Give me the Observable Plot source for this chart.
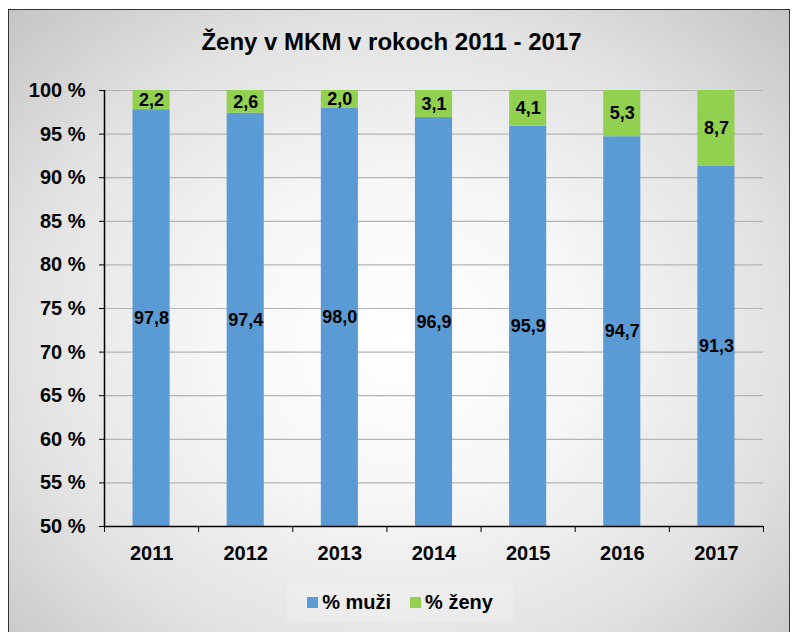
<!DOCTYPE html>
<html>
<head>
<meta charset="utf-8">
<script src="https://cdn.jsdelivr.net/npm/d3@7"></script>
<script src="https://cdn.jsdelivr.net/npm/@observablehq/plot@0.6"></script>
<style>
  html, body { margin: 0; padding: 0; background: #fff; }
  body { width: 792px; height: 632px; overflow: hidden; position: relative;
         font-family: "Liberation Sans", Arial, sans-serif; }
  #frame { position: absolute; left: 8px; top: 9px; width: 780px; height: 640px;
           border: 1.5px solid #333;
           background: radial-gradient(ellipse 70% 72% at 50% 52%, #ffffff 0%, #f6f6f6 35%, #e2e2e2 70%, #c6c6c6 100%); }
  #title { position: absolute; left: 0; width: 783px; top: 30px; text-align: center;
           font-size: 24px; line-height: 23px; font-weight: bold; color: #000; }
  #chart { position: absolute; left: 0; top: 70px; }
  #legend { position: absolute; left: 287px; top: 583px; width: 226px; height: 39px;
            display: flex; align-items: center; justify-content: center;
            background: rgba(255,255,255,0.18);
            font-size: 20px; font-weight: bold; color: #000; }
  .sw { width: 11px; height: 11px; display: inline-block; margin-right: 4px; }
  .item { display: flex; align-items: center; }
</style>
</head>
<body>
<div id="frame"></div>
<div id="title">Ženy v MKM v rokoch 2011 - 2017</div>
<div id="chart"></div>
<div id="legend"></div>
<script>
const years = [2011, 2012, 2013, 2014, 2015, 2016, 2017];
const muzi  = [97.8, 97.4, 98.0, 96.9, 95.9, 94.7, 91.3];
const zeny  = [2.2, 2.6, 2.0, 3.1, 4.1, 5.3, 8.7];
const yTicks = [50, 55, 60, 65, 70, 75, 80, 85, 90, 95, 100];
const seriesNames = ["% muži", "% ženy"];
const colors = ["#5B9BD5", "#92D050"];

const yMin = 50, yMax = 100;
const half = 0.197; // half bar width in category units
const data = years.map((y, i) => ({year: y, muzi: muzi[i], zeny: zeny[i]}));
const bounds = [years[0] - 0.5, ...years.map(y => y + 0.5)];
const fmt = v => v.toFixed(1).replace(".", ",");
const font = "'Liberation Sans', Arial, sans-serif";

const chart = Plot.plot({
  width: 792,
  height: 490,
  marginLeft: 104,
  marginRight: 29,
  marginTop: 20,
  marginBottom: 34,
  style: {background: "transparent", fontFamily: font, color: "#000", overflow: "visible"},
  x: {domain: [bounds[0], bounds[bounds.length - 1]], axis: null, label: null},
  y: {domain: [yMin, yMax], axis: null, label: null},
  marks: [
    Plot.gridY(yTicks, {stroke: "#b4b4b4", strokeOpacity: 1, strokeWidth: 1.2}),
    Plot.rectY(data, {x1: d => d.year - half, x2: d => d.year + half, y1: 0, y2: "muzi", fill: colors[0], clip: true}),
    Plot.rectY(data, {x1: d => d.year - half, x2: d => d.year + half, y1: "muzi", y2: d => d.muzi + d.zeny, fill: colors[1], clip: true}),
    Plot.text(data, {x: "year", y: d => (yMin + d.muzi) / 2, text: d => fmt(d.muzi), fontSize: 18, fontWeight: "bold", fill: "#000"}),
    Plot.text(data, {x: "year", y: d => d.muzi + d.zeny / 2, text: d => fmt(d.zeny), fontSize: 18, fontWeight: "bold", fill: "#000"}),
    Plot.axisY(yTicks, {label: null, tickSize: 5, tickPadding: 14, tickFormat: d => d + " %", fontSize: 20, fontWeight: "bold", stroke: "#000", fill: "#000"}),
    Plot.axisX(bounds, {label: null, tickSize: 6, tickFormat: () => "", stroke: "#000"}),
    Plot.axisX(years, {label: null, tickSize: 0, tickPadding: 19, tickFormat: d => String(d), fontSize: 20, fontWeight: "bold", fill: "#000"}),
    Plot.ruleY([yMin], {stroke: "#000", strokeWidth: 1.5}),
    Plot.ruleX([bounds[0]], {stroke: "#000", strokeWidth: 1.5})
  ]
});
document.getElementById("chart").appendChild(chart);

const legend = document.getElementById("legend");
seriesNames.forEach((name, i) => {
  const item = document.createElement("span");
  item.className = "item";
  if (i > 0) item.style.marginLeft = "19px";
  const sw = document.createElement("span");
  sw.className = "sw";
  sw.style.background = colors[i];
  item.appendChild(sw);
  item.appendChild(document.createTextNode(name));
  legend.appendChild(item);
});
</script>
</body>
</html>
